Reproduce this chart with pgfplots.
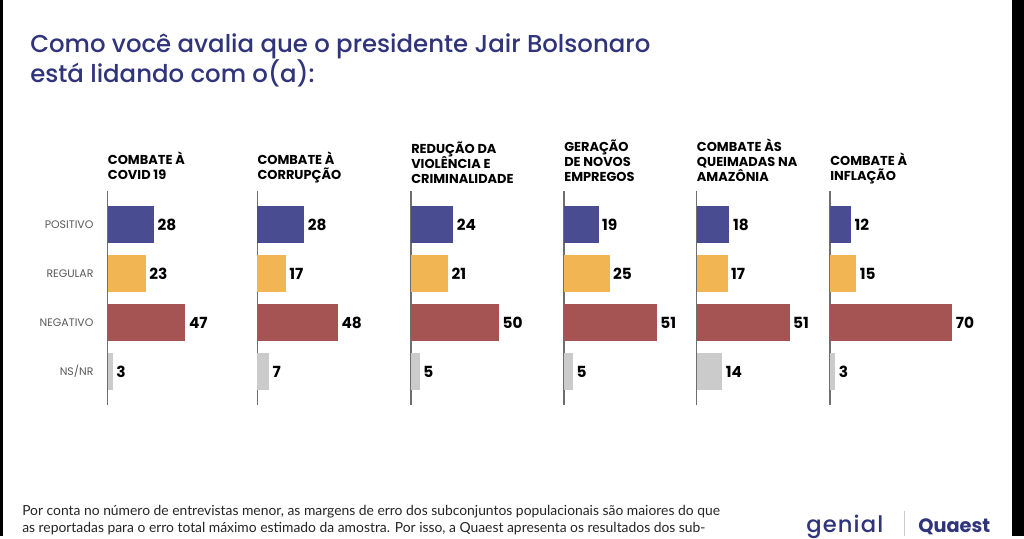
\documentclass[border=0pt]{standalone}
\usepackage{pgfplots}
\pgfplotsset{compat=1.18}
\usepackage{fontspec}
\setmainfont{Poppins}
\newfontfamily\pop{Poppins}
\newfontfamily\popmed{Poppins Medium}
\newfontfamily\lato{Lato}
\newfontfamily\logofont[LetterSpace=5]{Poppins Medium}
\definecolor{navy}{HTML}{30347A}
\definecolor{cpos}{HTML}{4A4C92}
\definecolor{creg}{HTML}{F2B554}
\definecolor{cneg}{HTML}{A65353}
\definecolor{cns}{HTML}{CBCBCB}
\definecolor{axgray}{HTML}{6E6E6E}

\pgfplotsset{
  panel/.style={
    xbar, scale only axis, clip=false,
    anchor=north west,
    y=36.75pt, y dir=reverse,
    ymin=-0.684, ymax=3.68, xmin=0, xmax=40,
    axis x line=none, axis y line=left,
    axis line style={-, axgray, line width=0.9pt},
    ytick=\empty, major tick length=0pt,
    /pgf/number format/assume math mode=true,
    nodes near coords, point meta=x,
    nodes near coords style={font=\pop\bfseries\fontsize{11.5}{12}\selectfont, anchor=west, inner sep=2.5pt, black},
    every axis plot/.append style={bar shift=0pt, bar width=28.3pt, draw=none},
  }
}
\newcommand{\panel}[7]{%
\begin{axis}[panel, at={(#1,-143.25pt)}, x=#2, #7]
\addplot[fill=cpos, bar shift=0pt] coordinates {(#3,0)};
\addplot[fill=creg, bar shift=0pt] coordinates {(#4,1)};
\addplot[fill=cneg, bar shift=0pt] coordinates {(#5,2)};
\addplot[fill=cns, bar shift=0pt] coordinates {(#6,3)};
\end{axis}}

\newcommand{\hd}[3]{\node[anchor=base west, inner sep=0pt, font=\pop\bfseries\fontsize{9.7}{10}\selectfont] at (#1,#2) {#3};}

\begin{document}
\begin{tikzpicture}[x=1pt,y=1pt]
\fill[white] (0,0) rectangle (768,-402);
\fill[black] (0,0) rectangle (2.2,-402);
\fill[black] (759,0) rectangle (768,-402);

% title
\node[anchor=base west, inner sep=0pt, font=\popmed\fontsize{18.3}{20}\selectfont, text=navy] at (22.5,-39) {Como você avalia que o presidente Jair Bolsonaro};
\node[anchor=base west, inner sep=0pt, font=\popmed\fontsize{18.3}{20}\selectfont, text=navy] at (22.5,-61.5) {está lidando com o(a):};

% panels
\panel{80.78pt}{1.2405pt}{28}{23}{47}{3}{ytick={0,1,2,3}, yticklabels={POSITIVO,REGULAR,NEGATIVO,NS/NR}, yticklabel style={font=\pop\fontsize{8.2}{9}\selectfont, text=black!65, inner sep=0pt, xshift=-10.5pt}}
\panel{192.98pt}{1.26pt}{28}{17}{48}{7}{}
\panel{308.25pt}{1.32pt}{24}{21}{50}{5}{}
\panel{423pt}{1.365pt}{19}{25}{51}{5}{}
\panel{522.5pt}{1.365pt}{18}{17}{51}{14}{}
\panel{622.5pt}{1.31pt}{12}{15}{70}{3}{}

% headers
\hd{80.78}{-123}{COMBATE À}
\hd{80.78}{-134.25}{COVID 19}
\hd{192.98}{-123}{COMBATE À}
\hd{192.98}{-134.25}{CORRUPÇÃO}
\hd{308.25}{-114.75}{REDUÇÃO DA}
\hd{308.25}{-126}{VIOLÊNCIA E}
\hd{308.25}{-137.25}{CRIMINALIDADE}
\hd{423}{-113.25}{GERAÇÃO}
\hd{423}{-124.5}{DE NOVOS}
\hd{423}{-135.75}{EMPREGOS}
\hd{522.5}{-113.25}{COMBATE ÀS}
\hd{522.5}{-124.5}{QUEIMADAS NA}
\hd{522.5}{-135.75}{AMAZÔNIA}
\hd{622.5}{-123.75}{COMBATE À}
\hd{622.5}{-135}{INFLAÇÃO}

% footer
\node[anchor=base west, inner sep=0pt, font=\lato\fontsize{10.4}{11}\selectfont, text=black!85] at (16.5,-386.25) {Por conta no número de entrevistas menor, as margens de erro dos subconjuntos populacionais são maiores do que};
\node[anchor=base west, inner sep=0pt, font=\lato\fontsize{10.4}{11}\selectfont, text=black!85] at (16.5,-399) {as reportadas para o erro total máximo estimado da amostra. Por isso, a Quaest apresenta os resultados dos sub-};

% logos
\node[anchor=base west, inner sep=0pt, font=\logofont\fontsize{17}{18}\selectfont, text=navy] at (604.5,-399) {genial};
\draw[black!20, line width=0.6pt] (678.5,-383) -- (678.5,-402);
\node[anchor=base west, inner sep=0pt, font=\pop\bfseries\fontsize{14.5}{16}\selectfont, text=navy] at (688.5,-399) {Quaest};
\end{tikzpicture}
\end{document}
